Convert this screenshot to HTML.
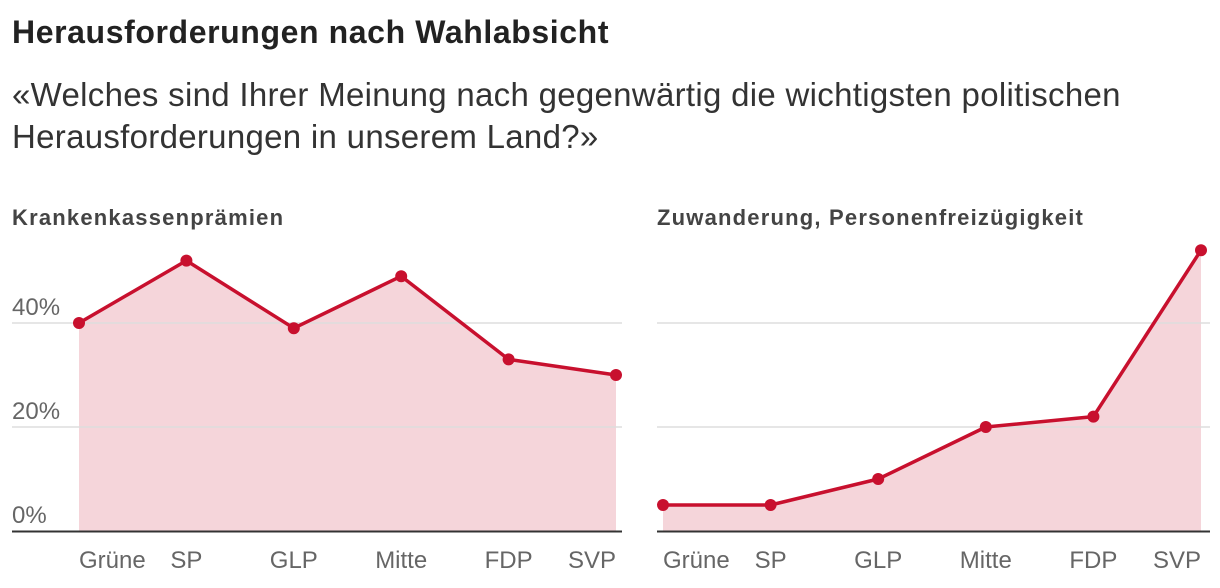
<!DOCTYPE html>
<html><head><meta charset="utf-8"><style>
body{margin:0;background:#fff;width:1220px;height:588px;overflow:hidden;font-family:"Liberation Sans","DejaVu Sans",sans-serif;}
h1{position:absolute;left:12px;top:14px;margin:0;font-size:32px;font-weight:bold;color:#222;letter-spacing:0.6px}
.sub{position:absolute;left:12px;top:74px;margin:0;font-size:33px;line-height:42px;color:#333;width:1200px;letter-spacing:0.3px}
svg{position:absolute;left:0;top:0}
</style></head><body>
<h1>Herausforderungen nach Wahlabsicht</h1>
<p class="sub">«Welches sind Ihrer Meinung nach gegenwärtig die wichtigsten politischen Herausforderungen in unserem Land?»</p>
<svg id="c" width="1220" height="588"></svg>
<script>
const categories=["Grüne","SP","GLP","Mitte","FDP","SVP"];
const krankenValues=[40,52,39,49,33,30];
const zuwanderungValues=[5,5,10,20,22,54];
const tickValues=[0,20,40];
const tickLabels=["0%","20%","40%"];
const panelTitles=["Krankenkassenprämien","Zuwanderung, Personenfreizügigkeit"];
const NS="http://www.w3.org/2000/svg";
const svg=document.getElementById('c');
function mk(t,a,p){const e=document.createElementNS(NS,t);for(const k in a)e.setAttribute(k,a[k]);(p||svg).appendChild(e);return e;}
const y=v=>531-v*5.2;
function panel(px0,px1,gx0,gx1,vals,title,showTicks,name){
  const g=mk('g',{});
  
  
  const x=i=>px0+i*(px1-px0)/(categories.length-1);
  const t=mk('text',{x:gx0,y:225,'font-size':22,'font-weight':'bold',fill:'#444','letter-spacing':1.2},g);t.textContent=title;
  
  
  let d=`M${x(0)},531`;vals.forEach((v,i)=>d+=`L${x(i)},${y(v)}`);d+=`L${x(vals.length-1)},531Z`;
  const a=mk('path',{d,fill:'#f5d5da'},g);
  
  
  tickValues.forEach((v,i)=>{
    if(v>0){const l=mk('line',{x1:gx0,x2:gx1,y1:y(v),y2:y(v),stroke:'#ddd','stroke-width':1.5},g);
    
    }
    if(showTicks){const tt=mk('text',{x:12,y:y(v)-8,'font-size':24,fill:'#666'},g);tt.textContent=tickLabels[i];
    
    }
  });
  const b=mk('line',{x1:gx0,x2:gx1,y1:531.5,y2:531.5,stroke:'#333','stroke-width':2},g);
  
  
  let ld='';vals.forEach((v,i)=>ld+=(i?'L':'M')+x(i)+','+y(v));
  const ln=mk('path',{d:ld,fill:'none',stroke:'#c8102e','stroke-width':3.5,'stroke-linejoin':'round'},g);
  
  
  vals.forEach((v,i)=>{const c=mk('circle',{cx:x(i),cy:y(v),r:6,fill:'#c8102e'},g);
    
    });
  categories.forEach((c,i)=>{
    const anchor=i==0?'start':i==categories.length-1?'end':'middle';
    const tx=mk('text',{x:x(i),y:568,'font-size':24,fill:'#666','text-anchor':anchor},g);tx.textContent=c;
    
    
  });
}
panel(79,616,12,622,krankenValues,panelTitles[0],true,'panel-krankenkassen');
panel(663,1201,657,1210,zuwanderungValues,panelTitles[1],false,'panel-zuwanderung');
</script>
</body></html>
